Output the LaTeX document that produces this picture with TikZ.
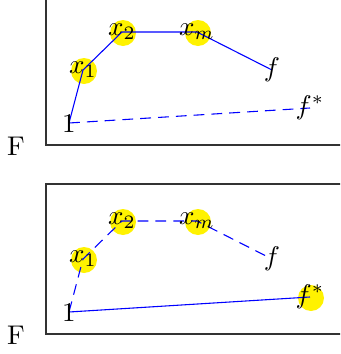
\documentclass[tikz,border=0pt]{standalone}
\usepackage{amsmath,amssymb}
\usepackage{tikz}
\usetikzlibrary{arrows.meta}
\tikzset{
	lbl/.style={inner sep=0pt},
	spot/.style={fill=yellow},
	walk/.style={blue},
	hop/.style={blue, dash pattern=on 4pt off 2.6pt},
	frame/.style={draw=black!80}
}

\begin{document}
\begin{tikzpicture}[>=Stealth, x=0.37pt, y=-0.37pt]
	\useasboundingbox (0,0) rectangle (340,354);
	\clip (0,0) rectangle (340,354);

	% upper panel: walk through x_1 ... x_m
	\draw[frame] (46,-5) rectangle (360,145);
	\node[lbl] (uF) at (16,146) {F};
	\coordinate (u1) at (69,123);
	\coordinate (ux1) at (83,70);
	\coordinate (ux2) at (122,32);
	\coordinate (uxm) at (197,32);
	\coordinate (uf) at (272,70);
	\coordinate (ufs) at (310,108);
	\foreach \p in {ux1,ux2,uxm}
	  \fill[spot] (\p) ++(1,1) circle (13);
	\draw[walk] (u1)--(ux1)--(ux2)--(uxm)--(uf);
	\draw[hop] (u1)--(ufs);
	\node[lbl] (lu1) at ([yshift=-0.4pt]u1) {$1$};
	\node[lbl] (lux1) at (ux1) {$x_1$};
	\node[lbl] (lux2) at (ux2) {$x_2$};
	\node[lbl] (luxm) at (uxm) {$x_m$};
	\node[lbl] (luf) at (uf) {$f$};
	\node[lbl] (lufs) at (ufs) {$f^*$};

	% lower panel: jump straight to f^*
	\draw[frame] (46,184) rectangle (360,334);
	\node[lbl] (dF) at (16,335) {F};
	\coordinate (d1) at (69,312);
	\coordinate (dx1) at (83,259);
	\coordinate (dx2) at (122,221);
	\coordinate (dxm) at (197,221);
	\coordinate (df) at (272,259);
	\coordinate (dfs) at (310,297);
	\foreach \p in {dx1,dx2,dxm,dfs}
	  \fill[spot] (\p) ++(1,1) circle (13);
	\draw[hop] (d1)--(dx1)--(dx2)--(dxm)--(df);
	\draw[walk] (d1)--(dfs);
	\node[lbl] (ld1) at ([yshift=-0.4pt]d1) {$1$};
	\node[lbl] (ldx1) at (dx1) {$x_1$};
	\node[lbl] (ldx2) at (dx2) {$x_2$};
	\node[lbl] (ldxm) at (dxm) {$x_m$};
	\node[lbl] (ldf) at (df) {$f$};
	\node[lbl] (ldfs) at (dfs) {$f^*$};
\end{tikzpicture}
\end{document}
